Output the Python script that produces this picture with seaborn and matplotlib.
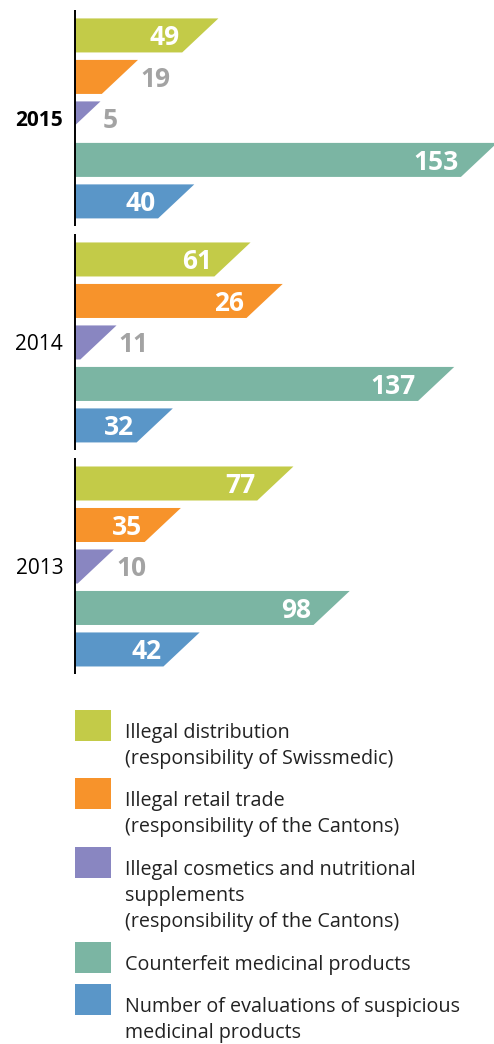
# Swissmedic-style slanted bar chart: illegal medicines cases per year

import pandas as pd
import matplotlib.pyplot as plt
import seaborn as sns
from matplotlib.patches import Polygon, Rectangle

# ---- data ----
years = ['2015', '2014', '2013']
categories = ['Illegal distribution', 'Illegal retail trade', 'Illegal cosmetics',
              'Counterfeit', 'Evaluations']
illegal_distribution = [49, 61, 77]
illegal_retail = [19, 26, 35]
illegal_cosmetics = [5, 11, 10]
counterfeit = [153, 137, 98]
evaluations = [40, 32, 42]
# the source graphic draws the 2014 retail bar much longer than its label (26)
illegal_retail_drawn = [19, 73, 35]

legend_labels = [
    'Illegal distribution\n(responsibility of Swissmedic)',
    'Illegal retail trade\n(responsibility of the Cantons)',
    'Illegal cosmetics and nutritional\nsupplements\n(responsibility of the Cantons)',
    'Counterfeit medicinal products',
    'Number of evaluations of suspicious\nmedicinal products',
]
colors = ['#c3cb48', '#f7932b', '#8986c1', '#7bb5a3', '#5a96c8']

labels_by_cat = [illegal_distribution, illegal_retail, illegal_cosmetics, counterfeit, evaluations]
drawn_by_cat = [illegal_distribution, illegal_retail_drawn, illegal_cosmetics, counterfeit, evaluations]

rows = []
for cat, drawn, lab in zip(categories, drawn_by_cat, labels_by_cat):
    for yr, d, v in zip(years, drawn, lab):
        rows.append({'year': yr, 'category': cat, 'drawn': d, 'value': v})
df = pd.DataFrame(rows)

W, H = 494, 1044
sns.set_style('white')
plt.rcParams['font.family'] = ['Open Sans', 'DejaVu Sans']

fig = plt.figure(figsize=(W / 100, H / 100), dpi=100)
ax = fig.add_axes([75 / W, 1 - 672 / H, 419 / W, 660 / H])

sns.barplot(data=df, y='year', x='drawn', hue='category', order=years,
            hue_order=categories, palette=colors, saturation=1, orient='h',
            width=0.926, gap=0.18, legend=False, ax=ax)

ax.set_xlim(0, 419 / 2.68)
ax.set_ylim(2.471, -0.475)
top_ext, bot_ext = 4.5, 9.0

for container, cat in zip(ax.containers, categories):
    for rect, yr in zip(container, years):
        x, y, h = rect.get_width(), rect.get_y(), rect.get_height()
        col = rect.get_facecolor()
        rect.set_visible(False)
        poly = Polygon([(0, y), (x + top_ext, y), (x - bot_ext, y + h), (0, y + h)],
                       closed=True, facecolor=col, edgecolor='none', zorder=2)
        ax.add_patch(poly)
        val = df.loc[(df.year == yr) & (df.category == cat), 'value'].iloc[0]
        if x > 25:
            ax.text(x - bot_ext - 0.8, y + h / 2 + 0.01, str(val), ha='right', va='center',
                    color='white', fontsize=19, fontweight='bold', zorder=3)
        else:
            ax.text(x + top_ext + 0.8, y + h / 2 + 0.01, str(val), ha='left', va='center',
                    color='#a3a3a3', fontsize=19, fontweight='bold', zorder=3)

# broken axis line, one segment per year
for i in range(len(years)):
    ax.vlines(0, i - 0.482, i + 0.482, color='black', lw=1.4, zorder=4, clip_on=False)

sns.despine(ax=ax, left=True, bottom=True)
ax.set_xlabel('')
ax.set_ylabel('')
ax.set_xticks([])
ax.tick_params(axis='y', length=0, pad=8.5)
for t in ax.get_yticklabels():
    t.set_fontsize(15)
    t.set_color('black')
    if t.get_text() == '2015':
        t.set_fontweight('bold')

# manual legend
sq_tops = [710, 778, 847, 942, 984]
for top, col, lab in zip(sq_tops, colors, legend_labels):
    fig.add_artist(Rectangle((75 / W, 1 - (top + 31) / H), 36 / W, 31 / H,
                             transform=fig.transFigure, facecolor=col, edgecolor='none'))
    for k, line in enumerate(lab.split('\n')):
        fig.text(125 / W, 1 - (top + 23 + 26 * k) / H, line, ha='left', va='center',
                 fontsize=14.2, color='#222222')

fig.savefig('out.png', dpi=100)
